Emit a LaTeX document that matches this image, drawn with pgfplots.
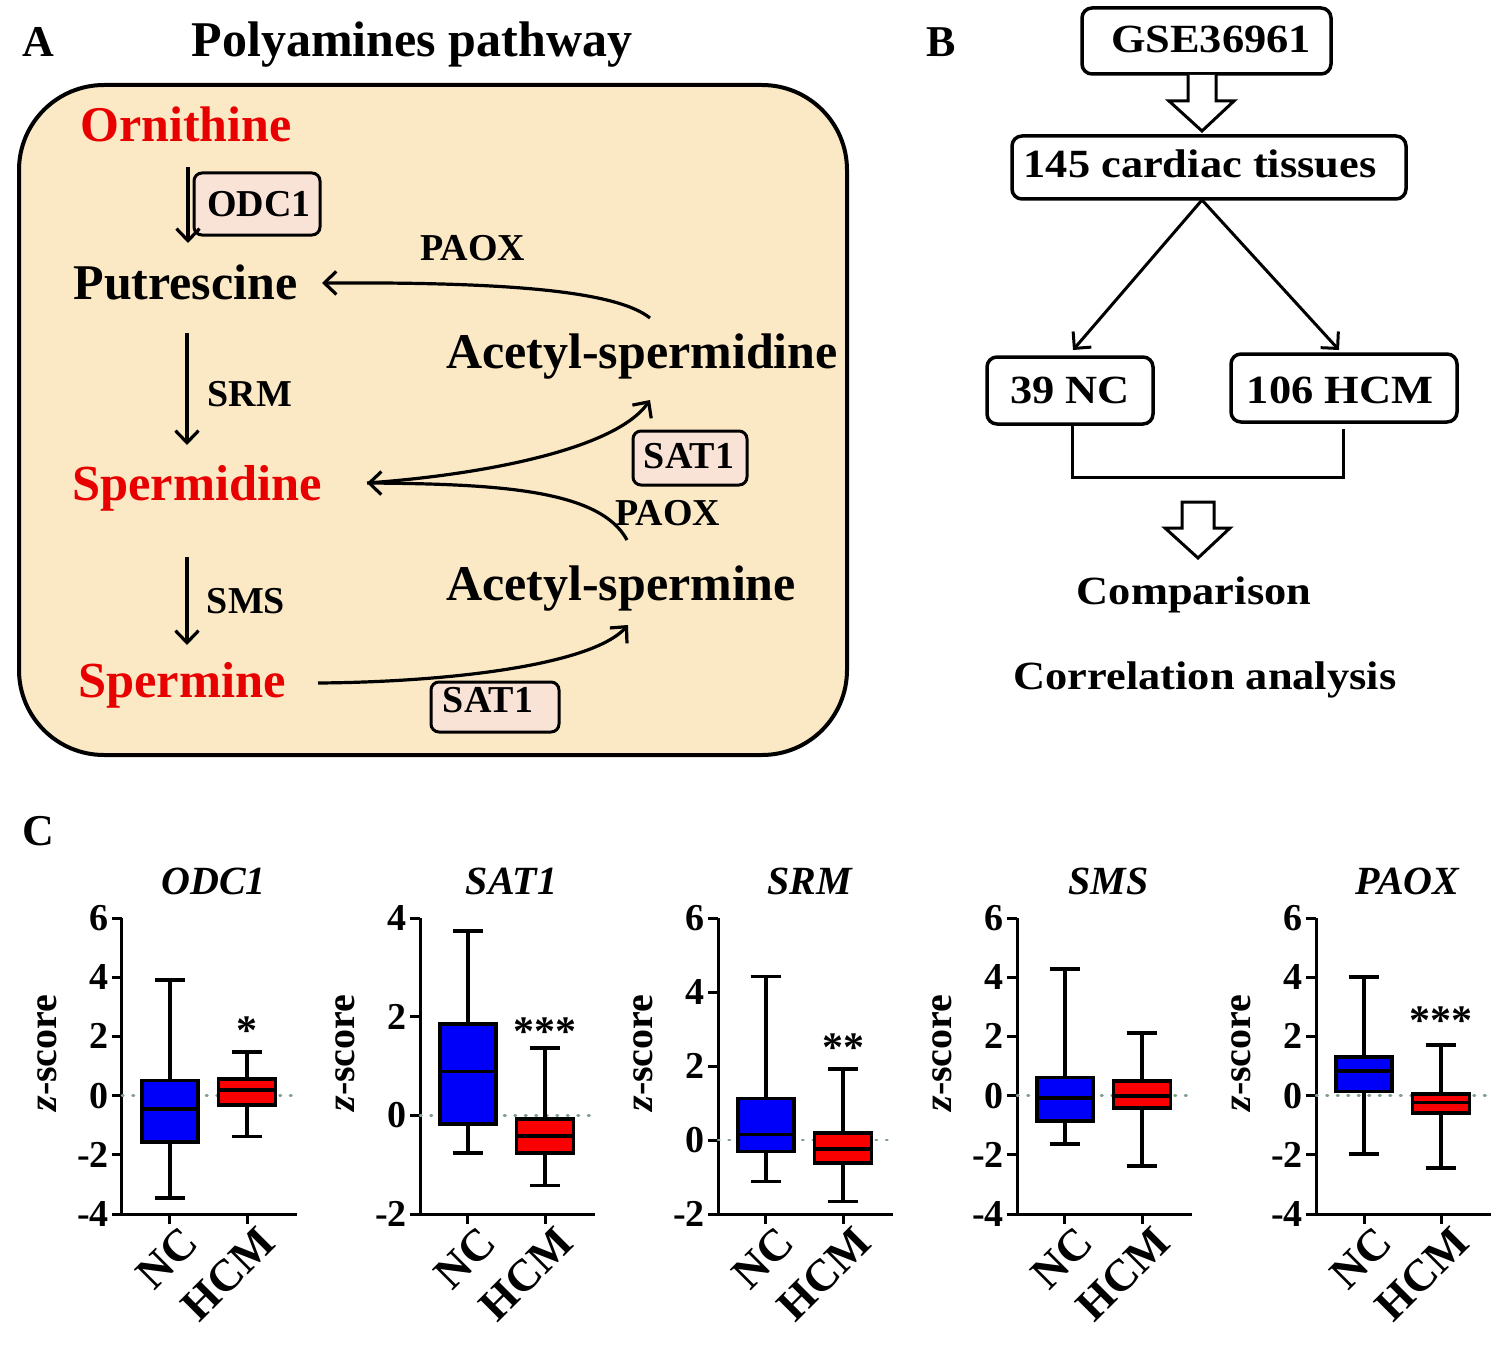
\documentclass[border=0pt]{standalone}
\usepackage{graphicx}
\usepackage{pgfplots}
\pgfplotsset{compat=1.18}
\usepgfplotslibrary{statistics}
\usetikzlibrary{arrows.meta}
\usepackage{fontspec}
\setmainfont{Liberation Serif}

\definecolor{beige}{RGB}{251,233,197}
\definecolor{pinkbox}{RGB}{249,226,214}
\definecolor{txtred}{RGB}{232,0,0}
\definecolor{ncblue}{RGB}{0,0,250}
\definecolor{hcmred}{RGB}{250,0,0}
\definecolor{zline}{RGB}{130,160,145}

\newcommand\fs[1]{\fontsize{#1}{#1}\selectfont\bfseries}
\newcommand\bt[1]{\fs{40}\scalebox{1.11}[1]{#1}}

\tikzset{star/.style={font=\fs{42}, anchor=base, yshift=-20pt}}
\pgfplotsset{
 boxax/.style={
  scale only axis, width=175pt, height=296pt,
  axis lines=left, axis line style={-, line width=3pt, black},
  xmin=0.377, xmax=2.649,
  xtick={1,2}, xticklabels={NC,HCM},
  tick align=outside, major tick length=10pt,
  tick style={line width=3pt, black},
  xticklabel style={font=\fs{45}, rotate=45, anchor=east, inner sep=0pt, yshift=-22pt, xshift=6pt},
  yticklabel style={font=\fs{38}, inner sep=3pt},
  clip=false,
  boxplot/draw direction=y,
  title style={font=\fs{40}\itshape, at={(0.5,1)}, anchor=base, yshift=18pt, xshift=4pt},
  ylabel={\textit{z}-score},
  ylabel style={font=\fs{40}, at={(axis description cs:-0.43,0.544)}, anchor=center},
 },
 nc/.style={draw=black, fill=ncblue, line width=3.8pt},
 hcm/.style={draw=black, fill=hcmred, line width=3.8pt},
 zl/.style={zline, line width=2.5pt, dash pattern=on 1.5pt off 9pt, line cap=round},
}

\begin{document}
\begin{tikzpicture}[x=1pt, y=-1pt]
\useasboundingbox (0,0) rectangle (1512,1351);

\tikzset{arr/.style={line width=3.2pt, -{Straight Barb[length=12pt, width=23pt, line width=3.2pt]}}}

% ---------------- Panel A ----------------
\node[anchor=base] at (38,57) {\fs{44}A};
\node[anchor=base] at (412,57) {\fs{50}Polyamines pathway};
\draw[line width=4pt, fill=beige, rounded corners=85pt] (19,85) rectangle (847,755);

\node[anchor=base, txtred] at (186,142) {\fs{50}Ornithine};
\node[anchor=base] at (185.5,299) {\fs{50}Putrescine};
\node[anchor=base, txtred] at (197,500) {\fs{50.5}Spermidine};
\node[anchor=base, txtred] at (182,697) {\fs{50.5}Spermine};
\node[anchor=base] at (642,368) {\fs{50}Acetyl-spermidine};
\node[anchor=base] at (621,600) {\fs{50}Acetyl-spermine};

\draw[line width=3pt, fill=pinkbox, rounded corners=8pt] (194,173) rectangle (320,235);
\node[anchor=base] at (259,217) {\fs{38}ODC1};
\draw[arr] (188,167) -- (188,243);

\draw[arr] (187,333) -- (187,445);
\node[anchor=base] at (250,406) {\fs{38}SRM};
\draw[arr] (187,557) -- (187,645);
\node[anchor=base] at (246,613) {\fs{38}SMS};

\node[anchor=base] at (473,260) {\fs{38}PAOX};
\draw[arr] (650,318) .. controls (615,290) and (500,282) .. (322,283);

\draw[arr] (367,483) .. controls (480,475) and (615,450) .. (650,400);
\draw[arr] (627,540) .. controls (600,490) and (500,484) .. (367,483);
\draw[line width=3pt, fill=pinkbox, rounded corners=8pt] (633,431) rectangle (747,485);
\node[anchor=base] at (689,468) {\fs{38}SAT1};
\node[anchor=base] at (668,525) {\fs{38}PAOX};

\draw[arr] (318,683) .. controls (450,682) and (592,665) .. (628,625);
\draw[line width=3pt, fill=pinkbox, rounded corners=8pt] (431,682) rectangle (559,732);
\node[anchor=base] at (488,712) {\fs{38}SAT1};

% ---------------- Panel B ----------------
\node[anchor=base] at (941,57) {\fs{44}B};
\draw[line width=3.5pt, rounded corners=10pt] (1082,8) rectangle (1331,74);
\node[anchor=base] at (1211,53) {\bt{GSE36961}};
\draw[line width=3pt, fill=white, line join=miter] (1188,75) -- (1188,101) -- (1169,101) -- (1202,131) -- (1234,101) -- (1216,101) -- (1216,75);
\draw[line width=3.5pt, rounded corners=10pt] (1012,136) rectangle (1406,199);
\node[anchor=base] at (1200,178) {\bt{145 cardiac tissues}};
\draw[line width=3pt, -{Straight Barb[length=12pt, width=24pt, line width=3pt]}] (1202,200) -- (1073,350);
\draw[line width=3pt, -{Straight Barb[length=12pt, width=24pt, line width=3pt]}] (1202,200) -- (1339,350);
\draw[line width=3.5pt, rounded corners=10pt] (987,357) rectangle (1153,424);
\node[anchor=base] at (1070,403) {\bt{39 NC}};
\draw[line width=3.5pt, rounded corners=10pt] (1231,354) rectangle (1457,422);
\node[anchor=base] at (1340,403) {\bt{106 HCM}};
\draw[line width=3pt] (1072,426) -- (1072,477) -- (1343,477) -- (1343,429);
\draw[line width=3pt, fill=white, line join=miter] (1182,502) -- (1182,528) -- (1165,528) -- (1198,558) -- (1230,528) -- (1214,528) -- (1214,502) -- cycle;
\node[anchor=base] at (1194,604) {\bt{Comparison}};
\node[anchor=base] at (1205,689) {\bt{Correlation analysis}};

% ---------------- Panel C ----------------
\node[anchor=base] at (38,845) {\fs{44}C};

% ODC1
\begin{axis}[boxax, at={(122pt,-1214pt)}, anchor=south west, title={ODC1},
  ymin=-4, ymax=6, ytick={-4,-2,0,2,4,6}, yticklabels={-4,-2,0,2,4,6}]
\addplot[zl] coordinates {(0.377,0) (2.649,0)};
\addplot[nc, boxplot prepared={draw position=1, lower whisker=-3.46, lower quartile=-1.58, median=-0.46, upper quartile=0.51, upper whisker=3.90, box extend=0.73, whisker extend=0.4}] coordinates {};
\addplot[hcm, boxplot prepared={draw position=2, lower whisker=-1.38, lower quartile=-0.31, median=0.19, upper quartile=0.55, upper whisker=1.48, box extend=0.74, whisker extend=0.4}] coordinates {};
\node[star] at (axis cs:2,2.39) {*};
\end{axis}

% SAT1
\begin{axis}[boxax, at={(420pt,-1214pt)}, anchor=south west, title={SAT1},
  ymin=-2, ymax=4, ytick={-2,0,2,4}, yticklabels={-2,0,2,4}]
\addplot[zl] coordinates {(0.377,0) (2.649,0)};
\addplot[nc, boxplot prepared={draw position=1, lower whisker=-0.76, lower quartile=-0.18, median=0.89, upper quartile=1.85, upper whisker=3.73, box extend=0.73, whisker extend=0.4}] coordinates {};
\addplot[hcm, boxplot prepared={draw position=2, lower whisker=-1.42, lower quartile=-0.76, median=-0.42, upper quartile=-0.07, upper whisker=1.36, box extend=0.74, whisker extend=0.4}] coordinates {};
\node[star] at (axis cs:2,1.83) {***};
\end{axis}

% SRM
\begin{axis}[boxax, at={(718pt,-1214pt)}, anchor=south west, title={SRM},
  ymin=-2, ymax=6, ytick={-2,0,2,4,6}, yticklabels={-2,0,2,4,6}]
\addplot[zl] coordinates {(0.377,0) (2.649,0)};
\addplot[nc, boxplot prepared={draw position=1, lower whisker=-1.12, lower quartile=-0.31, median=0.15, upper quartile=1.12, upper whisker=4.42, box extend=0.73, whisker extend=0.4}] coordinates {};
\addplot[hcm, boxplot prepared={draw position=2, lower whisker=-1.66, lower quartile=-0.63, median=-0.24, upper quartile=0.18, upper whisker=1.91, box extend=0.74, whisker extend=0.4}] coordinates {};
\node[star] at (axis cs:2,2.65) {**};
\end{axis}

% SMS
\begin{axis}[boxax, at={(1017pt,-1214pt)}, anchor=south west, title={SMS},
  ymin=-4, ymax=6, ytick={-4,-2,0,2,4,6}, yticklabels={-4,-2,0,2,4,6}]
\addplot[zl] coordinates {(0.377,0) (2.649,0)};
\addplot[nc, boxplot prepared={draw position=1, lower whisker=-1.64, lower quartile=-0.85, median=-0.09, upper quartile=0.61, upper whisker=4.27, box extend=0.73, whisker extend=0.4}] coordinates {};
\addplot[hcm, boxplot prepared={draw position=2, lower whisker=-2.37, lower quartile=-0.43, median=0.0, upper quartile=0.49, upper whisker=2.12, box extend=0.74, whisker extend=0.4}] coordinates {};
\end{axis}

% PAOX
\begin{axis}[boxax, at={(1316pt,-1214pt)}, anchor=south west, title={PAOX},
  ymin=-4, ymax=6, ytick={-4,-2,0,2,4,6}, yticklabels={-4,-2,0,2,4,6}]
\addplot[zl] coordinates {(0.377,0) (2.649,0)};
\addplot[nc, boxplot prepared={draw position=1, lower whisker=-1.97, lower quartile=0.14, median=0.83, upper quartile=1.30, upper whisker=4.02, box extend=0.73, whisker extend=0.4}] coordinates {};
\addplot[hcm, boxplot prepared={draw position=2, lower whisker=-2.44, lower quartile=-0.60, median=-0.23, upper quartile=0.06, upper whisker=1.71, box extend=0.74, whisker extend=0.4}] coordinates {};
\node[star] at (axis cs:2,2.73) {***};
\end{axis}

\end{tikzpicture}
\end{document}
